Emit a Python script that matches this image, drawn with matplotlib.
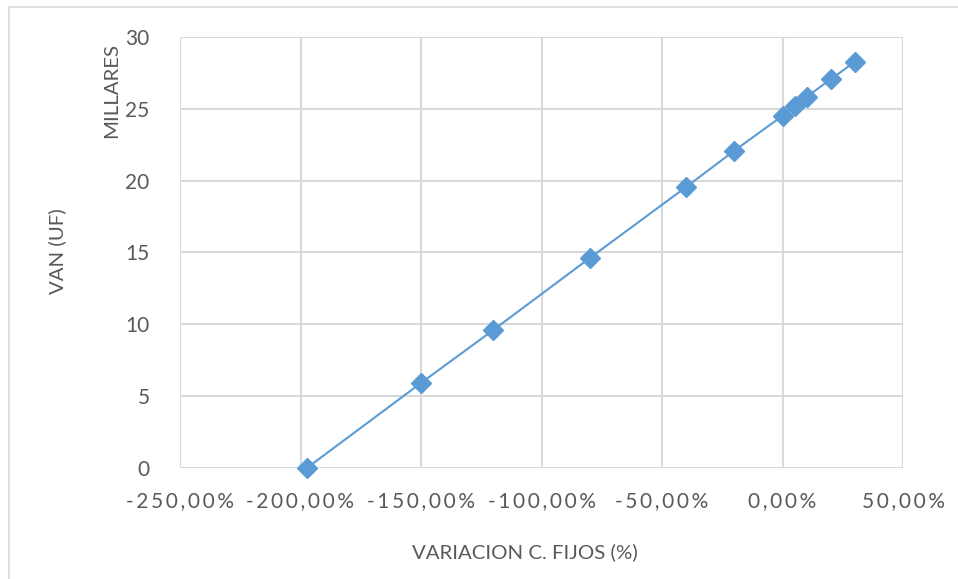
import matplotlib
matplotlib.use("Agg")
import matplotlib.pyplot as plt
from matplotlib.patches import Rectangle
from matplotlib.ticker import FixedLocator, FuncFormatter

# Sensibilidad del VAN a la variacion de costos fijos
variacion = [-197.2, -150, -120, -80, -40, -20, 0, 5, 10, 20, 30]
van_miles = [0.0, 5.90, 9.59, 14.60, 19.55, 22.08, 24.51, 25.19, 25.84, 27.05, 28.27]

x_ticks = [-250, -200, -150, -100, -50, 0, 50]
y_ticks = [0, 5, 10, 15, 20, 25, 30]

AZUL = "#5b9bd5"
GRIS_TEXTO = "#595959"
GRIS_GRILLA = "#d9d9d9"
FUENTE = ["Lato", "DejaVu Sans"]


def pct_es(v, pos=None):
    s = f"{v:.2f}".replace(".", ",") + "%"
    # Excel-like wide tracking on the tick labels
    return "\u2009".join(s)


fig = plt.figure(figsize=(9.58, 5.79), dpi=100)
ax = fig.add_axes([180 / 958, 1 - 467.7 / 579, (903 - 180) / 958, (467.7 - 37) / 579])

ax.plot(variacion, van_miles, color=AZUL, lw=1.5, marker="D", ms=10,
        markerfacecolor=AZUL, markeredgecolor=AZUL, zorder=3, clip_on=False)

ax.set_xlim(-250, 50)
ax.set_ylim(0, 30)
ax.xaxis.set_major_locator(FixedLocator(x_ticks))
ax.yaxis.set_major_locator(FixedLocator(y_ticks))
ax.xaxis.set_major_formatter(FuncFormatter(pct_es))

ax.grid(True, color=GRIS_GRILLA, lw=1.5)
ax.set_axisbelow(True)
for s in ax.spines.values():
    s.set_visible(False)
ax.tick_params(length=0, colors=GRIS_TEXTO, labelsize=15)
ax.tick_params(axis="y", pad=22)
ax.tick_params(axis="x", pad=17)
for lbl in ax.get_xticklabels() + ax.get_yticklabels():
    lbl.set_fontfamily(FUENTE)

fig.text(57 / 958, 1 - 251 / 579, "VAN (UF)", rotation=90, ha="center", va="center",
         color=GRIS_TEXTO, fontsize=14.7, family=FUENTE)
fig.text(112 / 958, 1 - 91 / 579, "MILLARES", rotation=90, ha="center", va="center",
         color=GRIS_TEXTO, fontsize=14.7, family=FUENTE)
fig.text(525 / 958, 1 - 552 / 579, "VARIACION C. FIJOS (%)", ha="center", va="center",
         color=GRIS_TEXTO, fontsize=14.7, family=FUENTE)

# chart area border
fig.patches.append(Rectangle((8.5 / 958, -0.1), 1.2, 1 - 7 / 579 + 0.1,
                             transform=fig.transFigure, fill=False,
                             edgecolor=GRIS_GRILLA, lw=1.2))

fig.savefig("out.png", dpi=100)
